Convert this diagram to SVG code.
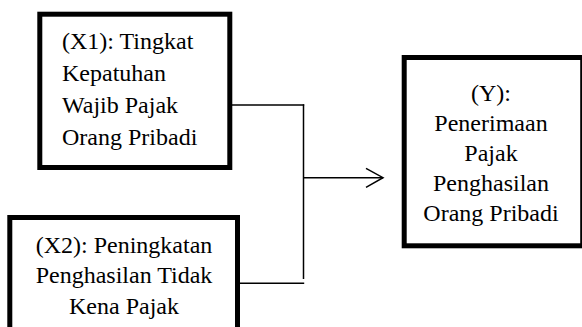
<svg xmlns="http://www.w3.org/2000/svg" width="582" height="327" viewBox="0 0 582 327">
<style>
.box{fill:#fff;stroke:#000;stroke-width:5}
.t{font-family:"Liberation Serif","Times New Roman",serif;font-size:24px;fill:#000}
.c{text-anchor:middle}
.ln{stroke:#000;stroke-width:1.5;fill:none}
</style>
<rect width="582" height="327" fill="#fff"/>
<g id="x1">
<rect class="box" x="39.8" y="14.2" width="190" height="153.3"/>
<text class="t" x="62" y="49">(X1): Tingkat</text>
<text class="t" x="62" y="81">Kepatuhan</text>
<text class="t" x="62" y="113">Wajib Pajak</text>
<text class="t" x="62" y="145">Orang Pribadi</text>
</g>
<g id="x2">
<rect class="box" x="9.8" y="217.5" width="227.7" height="130"/>
<text class="t c" x="124" y="252.7">(X2): Peningkatan</text>
<text class="t c" x="124" y="283.2">Penghasilan Tidak</text>
<text class="t c" x="124" y="313.5">Kena Pajak</text>
</g>
<g id="y">
<rect class="box" x="404.2" y="57.5" width="178.5" height="188.3"/>
<text class="t c" x="491" y="100.5">(Y):</text>
<text class="t c" x="491" y="130.5">Penerimaan</text>
<text class="t c" x="491" y="160.5">Pajak</text>
<text class="t c" x="491" y="190.5">Penghasilan</text>
<text class="t c" x="491" y="220.5">Orang Pribadi</text>
</g>
<g id="connectors">
<path class="ln" d="M232 105 H304.2"/>
<path class="ln" d="M303.5 104.3 V279"/>
<path class="ln" d="M240 283.3 H304.2"/>
<path class="ln" d="M303.5 177.7 H383"/>
<path class="ln" d="M366 168.3 L383 177.7 L366 187.3"/>
</g>
</svg>
